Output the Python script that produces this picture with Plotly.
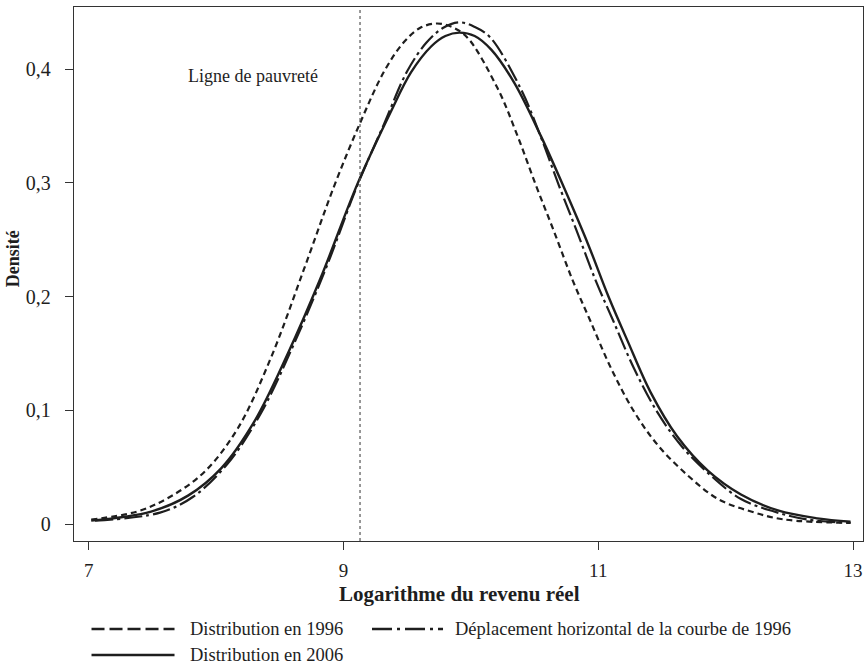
import plotly.graph_objects as go

# Densités
x_1996 = [7.02, 7.38, 7.64, 7.91, 8.17, 8.43, 8.69, 8.93, 9.14, 9.32, 9.47, 9.60, 9.73, 9.85,
          9.97, 10.21, 10.36, 10.51, 10.65, 10.80, 10.94, 11.10, 11.28, 11.47, 11.70, 11.94,
          12.20, 12.46, 12.98]
y_1996 = [0.004, 0.011, 0.024, 0.046, 0.084, 0.146, 0.224, 0.298, 0.355, 0.398, 0.423, 0.436,
          0.440, 0.437, 0.428, 0.383, 0.343, 0.298, 0.258, 0.214, 0.178, 0.137, 0.099, 0.069,
          0.043, 0.022, 0.011, 0.004, 0.001]

x_shift = [7.05, 7.56, 7.82, 8.09, 8.35, 8.61, 8.87, 9.11, 9.32, 9.50, 9.65, 9.78, 9.91, 10.03,
           10.15, 10.39, 10.54, 10.69, 10.83, 10.98, 11.12, 11.28, 11.46, 11.65, 11.88, 12.12,
           12.38, 12.64, 12.98]
y_shift = [0.003, 0.010, 0.024, 0.053, 0.097, 0.158, 0.227, 0.298, 0.352, 0.398, 0.423, 0.436,
           0.441, 0.437, 0.428, 0.383, 0.343, 0.298, 0.258, 0.214, 0.178, 0.137, 0.099, 0.069,
           0.043, 0.022, 0.011, 0.004, 0.001]

x_2006 = [7.02, 7.49, 7.78, 8.04, 8.30, 8.56, 8.82, 9.11, 9.37, 9.53, 9.69, 9.80, 9.91, 10.03,
          10.16, 10.34, 10.55, 10.73, 10.92, 11.08, 11.23, 11.41, 11.62, 11.86, 12.12, 12.41,
          12.72, 12.98]
y_2006 = [0.003, 0.011, 0.025, 0.049, 0.090, 0.149, 0.216, 0.299, 0.362, 0.397, 0.420, 0.429,
          0.432, 0.429, 0.417, 0.388, 0.341, 0.296, 0.246, 0.200, 0.161, 0.116, 0.077, 0.047,
          0.026, 0.012, 0.005, 0.002]

poverty_line = 9.13

x_ticks = [7, 9, 11, 13]
y_ticks = [0, 0.1, 0.2, 0.3, 0.4]
y_ticktext = ['0', '0,1', '0,2', '0,3', '0,4']

legend_labels = ['Distribution en 1996',
                 'Déplacement horizontal de la courbe de 1996',
                 'Distribution en 2006']

INK = '#1e1e1e'
FONT = 'Liberation Serif'

fig = go.Figure()

fig.add_trace(go.Scatter(x=x_1996, y=y_1996, mode='lines', name=legend_labels[0],
                         line=dict(color=INK, width=2.2, dash='6px,4px', shape='spline', smoothing=1)))
fig.add_trace(go.Scatter(x=x_shift, y=y_shift, mode='lines', name=legend_labels[1],
                         line=dict(color=INK, width=2.2, dash='18px,4px,3px,4px', shape='spline', smoothing=1)))
fig.add_trace(go.Scatter(x=x_2006, y=y_2006, mode='lines', name=legend_labels[2],
                         line=dict(color=INK, width=2.4, shape='spline', smoothing=1)))

# ligne de pauvreté
fig.add_shape(type='line', x0=poverty_line, x1=poverty_line, y0=0, y1=1,
              xref='x', yref='paper', line=dict(color='#555555', width=1.2, dash='dot'))
fig.add_annotation(x=8.29, y=0.394, text='Ligne de pauvreté', showarrow=False,
                   font=dict(family=FONT, size=18, color=INK))

# titres des axes
fig.add_annotation(xref='paper', yref='paper', x=0.488, y=-0.1, text='<b>Logarithme du revenu réel</b>',
                   showarrow=False, xanchor='center', yanchor='middle',
                   font=dict(family=FONT, size=21, color=INK))
fig.add_annotation(xref='paper', yref='paper', x=-0.077, y=0.528, text='<b>Densité</b>', textangle=-90,
                   showarrow=False, xanchor='center', yanchor='middle',
                   font=dict(family=FONT, size=18, color=INK))

# légende dessinée à la main (traits longs comme dans l'original)
legend_rows = [(0.0222, 0.1274, 0.1445, -0.1648, '13px,5px', legend_labels[0]),
               (0.3777, 0.4677, 0.4804, -0.1648, '20px,5px,3px,5px', legend_labels[1]),
               (0.0222, 0.1274, 0.1445, -0.2135, 'solid', legend_labels[2])]
for x0, x1, xt, yy, dash, label in legend_rows:
    fig.add_shape(type='line', xref='paper', yref='paper', x0=x0, x1=x1, y0=yy, y1=yy,
                  line=dict(color=INK, width=2.4, dash=dash))
    fig.add_annotation(xref='paper', yref='paper', x=xt, y=yy, text=label, showarrow=False,
                       xanchor='left', yanchor='middle', font=dict(family=FONT, size=18.5, color=INK))

fig.update_layout(
    width=867, height=665,
    margin=dict(l=74, r=4, t=7, b=124),
    paper_bgcolor='white', plot_bgcolor='white',
    showlegend=False,
    font=dict(family=FONT, size=19, color=INK),
)

fig.update_xaxes(range=[6.885, 13.078], tickvals=x_ticks, ticks='outside', ticklen=8, tickwidth=1.2,
                 tickcolor='#333333', showgrid=False, zeroline=False, showline=True, linecolor='#333333',
                 linewidth=1.4, mirror=True, ticklabelstandoff=4, tickfont=dict(size=19))
fig.update_yaxes(range=[-0.0149, 0.4545], tickvals=y_ticks, ticktext=y_ticktext, ticks='outside',
                 ticklen=8, tickwidth=1.2, tickcolor='#333333', showgrid=False, zeroline=False,
                 showline=True, linecolor='#333333', linewidth=1.4, mirror=True,
                 ticklabelstandoff=10, tickfont=dict(size=20))

fig.write_html("out.html", config={'displayModeBar': False},
               post_script="document.body.style.margin='0';")
